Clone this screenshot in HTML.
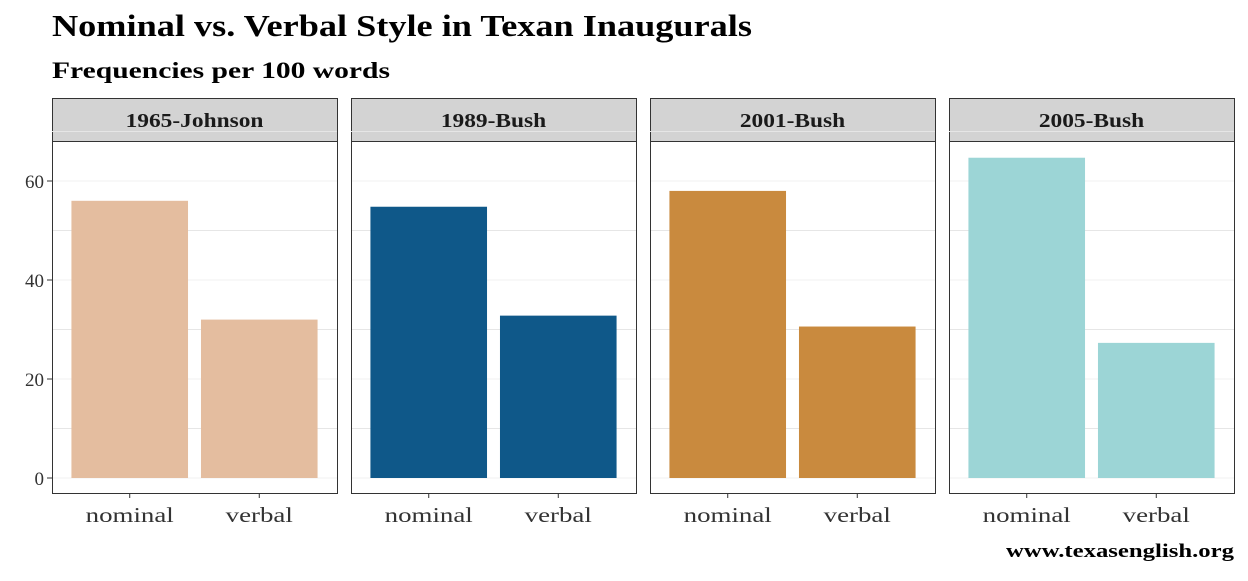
<!DOCTYPE html>
<html><head><meta charset="utf-8"><style>
body{margin:0;background:#fff;}
svg text{font-family:"Liberation Serif",serif;}
</style></head><body>
<svg id="chart" width="1248" height="576" xmlns="http://www.w3.org/2000/svg">
<text x="52" y="36" font-size="31" font-weight="bold" fill="#000" textLength="700" lengthAdjust="spacingAndGlyphs">Nominal vs. Verbal Style in Texan Inaugurals</text>
<text x="52" y="78" font-size="23" font-weight="bold" fill="#000" textLength="338" lengthAdjust="spacingAndGlyphs">Frequencies per 100 words</text>
<text x="1006" y="557" font-size="19" font-weight="bold" fill="#000" textLength="228" lengthAdjust="spacingAndGlyphs">www.texasenglish.org</text>
<g id="panels"></g>
</svg>
<script>
const speeches = ["1965-Johnson","1989-Bush","2001-Bush","2005-Bush"];
const categories = ["nominal","verbal"];
const nominalValues = [56.0, 54.8, 58.0, 64.7];
const verbalValues = [32.0, 32.8, 30.6, 27.3];
const yTicks = [0,20,40,60];
const colors = ["#e4bd9f","#0f5889","#c98a3e","#9cd5d6"];

const NS="http://www.w3.org/2000/svg";
const g=document.getElementById('panels');
function mk(tag,attrs,parent){const e=document.createElementNS(NS,tag);for(const k in attrs)e.setAttribute(k,attrs[k]);parent.appendChild(e);return e;}
const pTop=141,pBot=493,pW=285,stripTop=98;
const y0=478,pxPerUnit=4.95;
function yScale(v){return y0-v*pxPerUnit;}
function xScale(i,left){return left+(i+1-0.4)*(pW/2.2);}
const panelLefts=speeches.map((s,i)=>52+i*299);
const widen=1.17;

speeches.forEach((s,p)=>{
  const L=panelLefts[p];
  const strip=mk('rect',{x:L+0.5,y:stripTop+0.5,width:pW,height:pTop-stripTop,fill:'#d3d3d3',stroke:'#333','stroke-width':1},g);
  
  
  const st=mk('text',{x:L+pW/2,y:127,'font-size':20,'font-weight':'bold','text-anchor':'middle',fill:'#1a1a1a'},g);
  st.textContent=s;
  
  
  try{const w=st.getComputedTextLength();st.setAttribute('textLength',w*widen);st.setAttribute('lengthAdjust','spacingAndGlyphs');}catch(e){}
  for(let v=0;v<=70;v+=10){
    const gl=mk('line',{x1:L,x2:L+pW,y1:yScale(v),y2:yScale(v),stroke:v%20===0?'#f0f0f0':'#e6e6e6','stroke-width':1},g);
    
    
  }
  const vals=[nominalValues[p],verbalValues[p]];
  categories.forEach((c,i)=>{
    const cx=xScale(i,L),w=0.9*pW/2.2;
    const b=mk('rect',{x:cx-w/2,y:yScale(vals[i]),width:w,height:y0-yScale(vals[i]),fill:colors[p]},g);
    
    
    mk('line',{x1:cx,x2:cx,y1:pBot,y2:pBot+5,stroke:'#333'},g);
    const t=mk('text',{x:cx,y:522,'font-size':21,'text-anchor':'middle',fill:'#333'},g);
    t.textContent=c;
    
    
    try{const tw=t.getComputedTextLength();t.setAttribute('textLength',tw*1.28);t.setAttribute('lengthAdjust','spacingAndGlyphs');}catch(e){}
  });
  const fr=mk('rect',{x:L+0.5,y:pTop+0.5,width:pW,height:pBot-pTop,fill:'none',stroke:'#333','stroke-width':1},g);
  
  
});
yTicks.forEach(v=>{
  mk('line',{x1:47,x2:52,y1:yScale(v),y2:yScale(v),stroke:'#333'},g);
  const t=mk('text',{x:44,y:yScale(v)+7,'font-size':19,'text-anchor':'end',fill:'#333'},g);
  t.textContent=v;
  
  
});
</script>
</body></html>
